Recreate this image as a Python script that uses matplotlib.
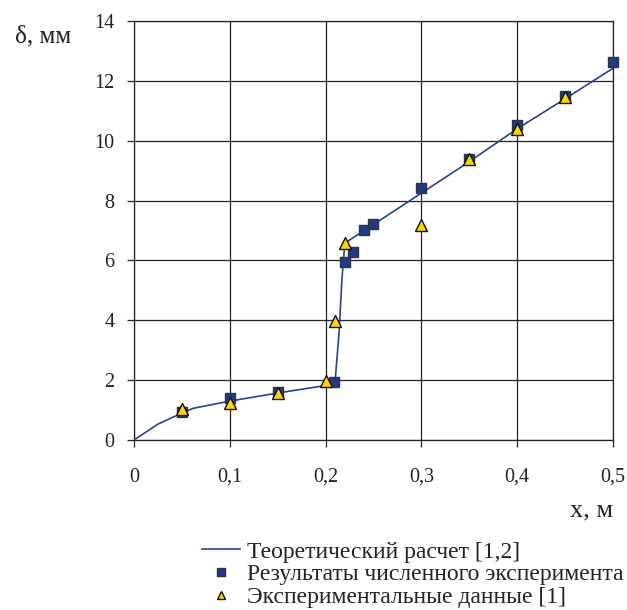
import numpy as np
import matplotlib.pyplot as plt
from matplotlib.lines import Line2D

# теоретический расчет [1,2]
theory_x = [0, 0.025, 0.05, 0.062, 0.1, 0.15, 0.2, 0.21, 0.214, 0.217, 0.2195, 0.221, 0.25, 0.3, 0.35, 0.4, 0.45, 0.5]
theory_y = [0, 0.53, 0.9, 1.06, 1.3, 1.57, 1.82, 2.0, 3.56, 5.35, 6.35, 6.6, 7.2, 8.25, 9.3, 10.4, 11.4, 12.42]

# численный эксперимент
num_x = [0.05, 0.1, 0.15, 0.209, 0.22, 0.229, 0.24, 0.249, 0.3, 0.35, 0.4, 0.45, 0.5]
num_y = [0.95, 1.39, 1.59, 1.93, 5.95, 6.29, 7.02, 7.22, 8.41, 9.4, 10.53, 11.5, 12.64]

# экспериментальные данные [1]
exp_x = [0.05, 0.1, 0.15, 0.2, 0.21, 0.22, 0.3, 0.35, 0.4, 0.45]
exp_y = [1.05, 1.25, 1.57, 1.98, 3.99, 6.57, 7.18, 9.38, 10.38, 11.45]

plt.rcParams['font.family'] = ['Liberation Serif', 'DejaVu Serif']

fig = plt.figure(figsize=(6.27, 6.10), dpi=100)
ax = fig.add_axes([134 / 627, 1 - 440 / 610, (613 - 134) / 627, (440 - 21) / 610])

ax.plot(theory_x, theory_y, color='#2b3f98', lw=1.2, zorder=3)
ax.plot(num_x, num_y, ls='none', marker='s', ms=7, mfc='#1f3a8a', mec='#333333', mew=1,
        zorder=4, clip_on=False)
ax.plot(exp_x, exp_y, ls='none', marker='^', ms=8, mfc='#ffd400', mec='#111111', mew=1,
        zorder=5, clip_on=False)

ax.set_xlim(0, 0.5)
ax.set_ylim(0, 14)
ax.set_xticks(np.arange(0, 0.51, 0.1))
ax.set_xticklabels(['0', '0,1', '0,2', '0,3', '0,4', '0,5'])
ax.set_yticks(np.arange(0, 15, 2))
ax.grid(True, color='#222222', lw=0.9)
ax.set_axisbelow(True)
for s in ax.spines.values():
    s.set_color('#222222')
    s.set_linewidth(0.9)
ax.tick_params(labelsize=14.5, length=5, width=0.9, color='#222222', labelcolor='#222222')
ax.tick_params(axis='x', pad=15)
ax.tick_params(axis='y', pad=9)

fig.text(15 / 627, 1 - 36 / 610, 'δ, мм', fontsize=18, va='center', ha='left', color='#222222')
fig.text(613 / 627, 1 - 510 / 610, 'х, м', fontsize=19, va='center', ha='right', color='#222222')

handles = [
    Line2D([], [], color='#2b3f98', lw=1.2),
    Line2D([], [], ls='none', marker='s', ms=6, mfc='#1f3a8a', mec='#333333', mew=1),
    Line2D([], [], ls='none', marker='^', ms=6, mfc='#ffd400', mec='#111111', mew=1),
]
labels = ['Теоретический расчет [1,2]', 'Результаты численного эксперимента', 'Экспериментальные данные [1]']
fig.legend(handles, labels, loc='upper left', bbox_to_anchor=(202 / 627, 1 - 541 / 610),
           frameon=False, fontsize=17, handlelength=1.6, handletextpad=0.3,
           labelspacing=0.05, borderpad=0, borderaxespad=0, labelcolor='#222222')

fig.savefig('out.png', dpi=100)
